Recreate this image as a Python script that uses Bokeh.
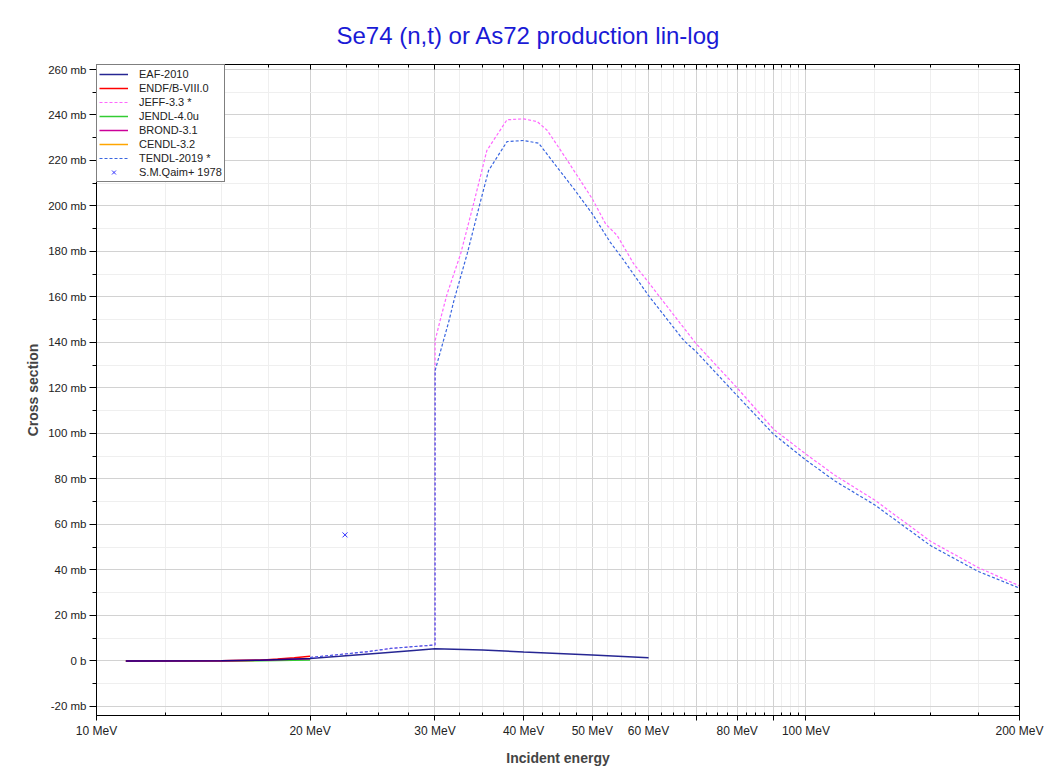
from bokeh.plotting import figure
from bokeh.models import (LogAxis, LinearAxis, FixedTicker, Range1d, Legend, LegendItem)
from bokeh.embed import file_html
from bokeh.resources import INLINE

# ---------------- data (energies in MeV, cross sections in mb) ----------------
eaf_e = [11, 15, 17, 20, 22, 25, 28, 30, 35, 40, 50, 60]
eaf_xs = [0.0, 0.1, 0.3, 1.1, 2.0, 3.4, 4.6, 5.3, 4.8, 3.9, 2.6, 1.4]

endf_e = [11, 15, 17, 18, 19, 20]
endf_xs = [0.0, 0.05, 0.3, 0.8, 1.4, 2.0]

jeff_e = [20, 22, 24, 26, 28, 30, 30.01, 30.5, 31.2, 32.6, 34.0, 35.5, 37.9, 40.0, 41.8, 43.2,
          46.1, 50.0, 52.2, 54.2, 57.2, 60.0, 62.4, 70.0, 80.0, 90.0, 100.0, 110.0, 125.0,
          150.0, 175.0, 200.0]
jeff_xs = [1.5, 2.8, 4.0, 5.5, 6.3, 7.0, 140.8, 149.6, 161.3, 178.9, 200.9, 224.4, 237.9, 238.3,
           237.1, 233.2, 220.0, 203.1, 192.1, 187.0, 174.5, 166.4, 159.5, 139.5, 120.0, 101.9,
           90.9, 81.5, 70.7, 52.5, 41.0, 33.0]

jendl_e = [11, 15, 17, 20]
jendl_xs = [0.0, 0.03, 0.1, 0.4]

brond_e = [11, 15, 17, 20]
brond_xs = [0.0, 0.1, 0.3, 1.0]

cendl_e = [11, 15, 17, 20]
cendl_xs = [0.0, 0.08, 0.25, 0.8]

tendl_e = [20, 22, 24, 26, 28, 30, 30.01, 31.4, 31.9, 33.3, 34.8, 35.7, 37.9, 40.0, 42.0, 44.6,
           47.1, 50.0, 53.0, 55.4, 60.0, 67.3, 70.0, 80.0, 90.0, 100.0, 110.0, 125.0, 150.0,
           175.0, 200.0]
tendl_xs = [1.5, 2.8, 4.0, 5.5, 6.3, 7.0, 127.6, 149.6, 158.4, 178.9, 202.4, 215.6, 228.3, 228.8,
            227.6, 217.0, 207.5, 196.5, 184.0, 176.0, 160.6, 140.8, 136.0, 116.6, 99.7, 88.3,
            79.0, 68.6, 50.6, 39.3, 32.0]

qaim_e = [22.4]
qaim_xs = [55.4]

x_major = [10, 20, 30, 40, 50, 60, 70, 80, 90, 100, 200]
x_labels = {10: "10 MeV", 20: "20 MeV", 30: "30 MeV", 40: "40 MeV", 50: "50 MeV",
            60: "60 MeV", 70: "", 80: "80 MeV", 90: "", 100: "100 MeV", 200: "200 MeV"}
x_minor = [12.5, 15, 17.5, 22.5, 25, 27.5, 32.5, 35, 37.5, 42.5, 45, 47.5, 52.5, 55, 57.5,
           62.5, 65, 67.5, 72.5, 75, 77.5, 82.5, 85, 87.5, 92.5, 95, 97.5, 125, 150, 175]
y_major = [-20, 0, 20, 40, 60, 80, 100, 120, 140, 160, 180, 200, 220, 240, 260]
y_minor = [-10, 10, 30, 50, 70, 90, 110, 130, 150, 170, 190, 210, 230, 250]

# ---------------- figure ----------------
FONT = "Liberation Sans"
p = figure(width=1055, height=768, x_axis_type="log",
           x_range=Range1d(10, 200), y_range=Range1d(-24, 262.2),
           output_backend="svg", toolbar_location=None,
           min_border_left=96, min_border_right=36, min_border_top=64, min_border_bottom=52)

p.title.text = "Se74 (n,t) or As72 production lin-log"
p.title.text_font = FONT
p.title.text_font_size = "24px"
p.title.text_font_style = "normal"
p.title.text_color = "#1a1ad6"
p.title.align = "left"
p.title.offset = 240
p.title.standoff = 31

p.outline_line_color = "black"
p.outline_line_width = 1

xt = FixedTicker(ticks=x_major, minor_ticks=x_minor)
yt = FixedTicker(ticks=y_major, minor_ticks=y_minor)

xa = p.xaxis[0]
xa.ticker = xt
xa.major_label_overrides = x_labels
xa.axis_label = "Incident energy"
ya = p.yaxis[0]
ya.ticker = yt
ya.major_label_overrides = {v: ("0 b" if v == 0 else f"{v} mb") for v in y_major}
ya.axis_label = "Cross section"

for ax in (xa, ya):
    ax.axis_label_text_font = FONT
    ax.axis_label_text_font_style = "bold"
    ax.axis_label_text_font_size = "14px"
    ax.major_label_text_font = FONT
    ax.major_label_text_color = "#222222"
    ax.axis_line_color = "black"
    ax.major_tick_line_color = "black"
    ax.minor_tick_line_color = "black"
    ax.major_label_standoff = 3
xa.major_label_text_font_size = "12px"
ya.major_label_text_font_size = "11.5px"
xa.major_tick_in = 0
xa.major_tick_out = 5
xa.minor_tick_in = 3
xa.minor_tick_out = 0
ya.major_tick_in = 0
ya.major_tick_out = 7
ya.minor_tick_in = 0
ya.minor_tick_out = 4
xa.axis_label_standoff = 9
ya.axis_label_standoff = 4

top = LogAxis(ticker=xt, major_label_text_font_size="0px", major_tick_in=5, major_tick_out=0,
              minor_tick_in=3, minor_tick_out=0, axis_line_color="black",
              major_label_standoff=0)
right = LinearAxis(ticker=yt, major_label_text_font_size="0px", major_tick_in=5, major_tick_out=0,
                   minor_tick_in=5, minor_tick_out=0, axis_line_color="black",
                   major_label_standoff=0)
p.add_layout(top, "above")
p.add_layout(right, "right")

p.xgrid.ticker = xt
p.ygrid.ticker = yt
for g in (p.xgrid, p.ygrid):
    g.grid_line_color = "#d2d2d2"
    g.grid_line_width = 1
    g.minor_grid_line_color = "#efefef"
    g.minor_grid_line_width = 1

# ---------------- series (drawn so the low-energy overlap looks like the reference) ----------------
r_cendl = p.line(cendl_e, cendl_xs, line_color="#ffa500", line_width=1.5)
r_jendl = p.line(jendl_e, jendl_xs, line_color="#33cc33", line_width=1.5)
r_endf = p.line(endf_e, endf_xs, line_color="#ff0000", line_width=1.5)
r_brond = p.line(brond_e, brond_xs, line_color="#cc0099", line_width=1.5)
r_eaf = p.line(eaf_e, eaf_xs, line_color="#000080", line_width=1.5, line_alpha=0.85)
r_jeff = p.line(jeff_e, jeff_xs, line_color="#ff66ff", line_width=1.2, line_dash="3 2")
r_tendl = p.line(tendl_e, tendl_xs, line_color="#3a66e0", line_width=1.2, line_dash="3 2")
r_qaim = p.scatter(qaim_e, qaim_xs, marker="x", size=7, line_color="#3333ff", line_width=1)

legend = Legend(items=[
    LegendItem(label="EAF-2010", renderers=[r_eaf]),
    LegendItem(label="ENDF/B-VIII.0", renderers=[r_endf]),
    LegendItem(label="JEFF-3.3 *", renderers=[r_jeff]),
    LegendItem(label="JENDL-4.0u", renderers=[r_jendl]),
    LegendItem(label="BROND-3.1", renderers=[r_brond]),
    LegendItem(label="CENDL-3.2", renderers=[r_cendl]),
    LegendItem(label="TENDL-2019 *", renderers=[r_tendl]),
    LegendItem(label="S.M.Qaim+ 1978", renderers=[r_qaim]),
], location="top_left")
legend.margin = 0
legend.padding = 2
legend.spacing = 0
legend.glyph_width = 29
legend.glyph_height = 14
legend.label_height = 14
legend.label_standoff = 11
legend.label_text_font = FONT
legend.label_text_font_size = "11px"
legend.label_text_color = "#222222"
legend.border_line_color = "black"
legend.border_line_width = 1
legend.background_fill_color = "white"
legend.background_fill_alpha = 1
p.add_layout(legend)

open("out.html", "w").write(file_html(p, INLINE))
